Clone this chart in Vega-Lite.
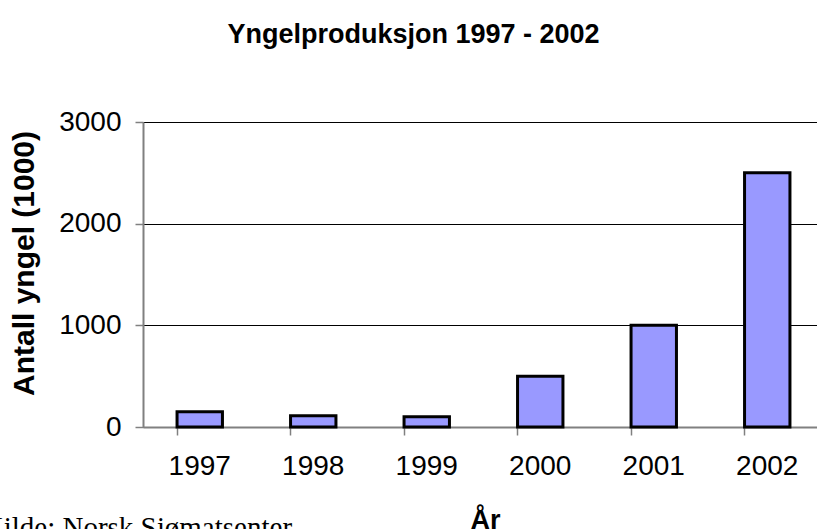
{
  "$schema": "https://vega.github.io/schema/vega-lite/v6.json",
  "autosize": {"type": "none"},
  "width": 681,
  "height": 305,
  "padding": {"left": 143, "top": 122, "right": 0, "bottom": 110},
  "background": "white",
  "title": {
    "text": "Yngelproduksjon 1997 - 2002",
    "font": "Liberation Sans",
    "fontSize": 27,
    "fontWeight": "bold",
    "color": "black",
    "anchor": "middle",
    "baseline": "alphabetic",
    "offset": 38,
    "dx": -70
  },
  "config": {
    "view": {"stroke": null},
    "axis": {
      "labelFont": "Liberation Sans",
      "titleFont": "Liberation Sans",
      "labelColor": "black",
      "titleColor": "black"
    }
  },
  "layer": [
    {
      "data": {
        "values": [
          {"year": "1997", "value": 150},
          {"year": "1998", "value": 110},
          {"year": "1999", "value": 100},
          {"year": "2000", "value": 500},
          {"year": "2001", "value": 1000},
          {"year": "2002", "value": 2500}
        ]
      },
      "mark": {"type": "bar", "fill": "#9999FF", "stroke": "black", "strokeWidth": 3},
      "encoding": {
        "x": {
          "field": "year",
          "type": "nominal",
          "scale": {"paddingInner": 0.6, "paddingOuter": 0.3},
          "axis": {
            "title": "År",
            "titleFontSize": 27,
            "titleFontWeight": "bold",
            "titleX": 342,
            "titleY": 101,
            "titleAlign": "center",
            "titleBaseline": "alphabetic",
            "labelAngle": 0,
            "labelFontSize": 28,
            "labelPadding": 17,
            "bandPosition": 0,
            "tickSize": 8,
            "tickColor": "#808080",
            "tickWidth": 1.5,
            "domainColor": "#808080",
            "domainWidth": 2,
            "grid": false
          }
        },
        "y": {
          "field": "value",
          "type": "quantitative",
          "scale": {"domain": [0, 3000], "nice": false},
          "axis": {
            "title": "Antall yngel (1000)",
            "titleFontSize": 30,
            "titleFontWeight": "bold",
            "titleX": -110,
            "titleY": 141,
            "titleAngle": -90,
            "titleAlign": "center",
            "titleBaseline": "alphabetic",
            "values": [0, 1000, 2000, 3000],
            "format": "d",
            "labelFontSize": 28,
            "labelPadding": 14,
            "tickSize": 8,
            "tickColor": "#808080",
            "tickWidth": 1.5,
            "domainColor": "#808080",
            "domainWidth": 2,
            "grid": true,
            "gridColor": "black",
            "gridWidth": 1,
            "gridOpacity": 1
          }
        }
      }
    },
    {
      "data": {"values": [{"kilde": "Kilde: Norsk Sjømatsenter", "year": "1997", "value": 0}]},
      "mark": {
        "type": "text",
        "font": "Liberation Serif",
        "fontSize": 29,
        "color": "black",
        "align": "left",
        "baseline": "alphabetic",
        "dx": -217,
        "dy": 110
      },
      "encoding": {
        "x": {"field": "year", "type": "nominal"},
        "y": {"field": "value", "type": "quantitative"},
        "text": {"field": "kilde"}
      }
    }
  ]
}
